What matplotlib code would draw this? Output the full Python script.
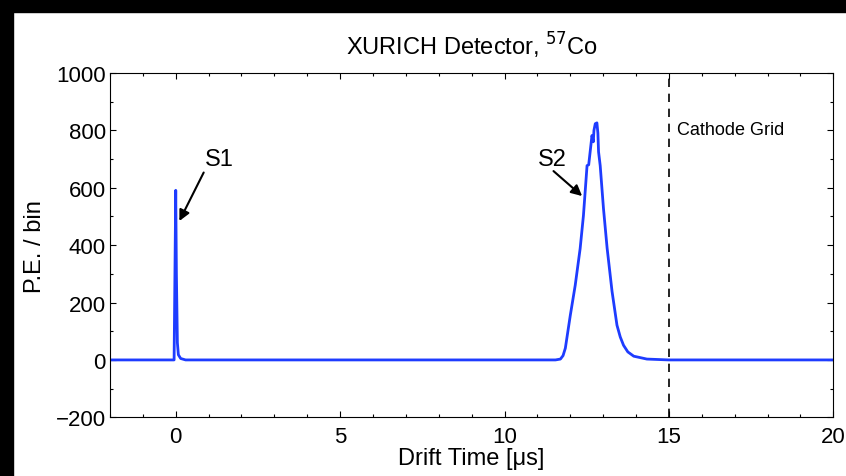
import matplotlib.pyplot as plt
from matplotlib.patches import Rectangle
from matplotlib.ticker import MultipleLocator

plt.rcParams['font.family'] = ['Liberation Sans', 'DejaVu Sans']

tiempo = [-2.0, -0.05, 0.0, 0.02, 0.05, 0.08, 0.15, 0.3,
          11.55, 11.70, 11.78, 11.85, 12.00, 12.15, 12.30, 12.40, 12.51, 12.56,
          12.66, 12.70, 12.72, 12.76, 12.81, 12.84, 12.86, 12.91, 13.01,
          13.12, 13.27, 13.42, 13.52, 13.62, 13.75, 13.93, 14.33, 15.0, 20.0]
pe_bin = [0, 0, 591, 300, 60, 18, 5, 0,
          0, 3, 15, 41, 155, 260, 388, 503, 677, 680,
          782, 760, 800, 823, 826, 790, 725, 677, 527,
          390, 239, 121, 80, 51, 28, 13, 3, 0, 0]

x_lim = [-2, 20]
y_lim = [-200, 1000]
cathode_t = 15

fig = plt.figure(figsize=(8.46, 4.77), dpi=100)
ax = fig.add_axes([0.130, 0.123, 0.855, 0.722])

ax.plot(tiempo, pe_bin, color='#1e3cff', lw=2)
ax.axvline(cathode_t, color='black', ls=(0, (5, 4)), lw=1.2)

ax.set_xlim(x_lim)
ax.set_ylim(y_lim)
ax.xaxis.set_major_locator(MultipleLocator(5))
ax.xaxis.set_minor_locator(MultipleLocator(1))
ax.yaxis.set_major_locator(MultipleLocator(200))
ax.yaxis.set_minor_locator(MultipleLocator(100))
ax.tick_params(which='both', direction='in', top=True, right=True, width=0.8)
ax.tick_params(which='major', length=4.5, labelsize=16)
ax.tick_params(which='minor', length=2.5)
ax.tick_params(axis='y', pad=3)
ax.tick_params(axis='x', pad=6)
for s in ax.spines.values():
    s.set_linewidth(0.8)

ax.set_title('XURICH Detector, $^{57}$Co', fontsize=17, pad=13)
ax.set_xlabel('Drift Time [\u03bcs]', fontsize=17, labelpad=0)
ax.set_ylabel('P.E. / bin', fontsize=17, labelpad=7)

# etiquetas y flechas
ax.text(1.34, 699, 'S1', fontsize=17, ha='center', va='center')
ax.annotate('', xy=(0.11, 484), xytext=(0.85, 653),
            arrowprops=dict(arrowstyle='-|>', color='black', lw=1.5,
                            shrinkA=0, shrinkB=0, mutation_scale=16))
ax.text(11.44, 699, 'S2', fontsize=17, ha='center', va='center')
ax.annotate('', xy=(12.36, 571), xytext=(11.49, 658),
            arrowprops=dict(arrowstyle='-|>', color='black', lw=1.5,
                            shrinkA=0, shrinkB=0, mutation_scale=16))
ax.text(15.25, 803, 'Cathode Grid', fontsize=13, ha='left', va='center')

# marco negro de la captura
fig.patches.append(Rectangle((0, 0.973), 1, 0.027, transform=fig.transFigure,
                             color='black', zorder=10))
fig.patches.append(Rectangle((0, 0), 0.015, 1, transform=fig.transFigure,
                             color='black', zorder=10))

plt.savefig('out.png', dpi=100)
